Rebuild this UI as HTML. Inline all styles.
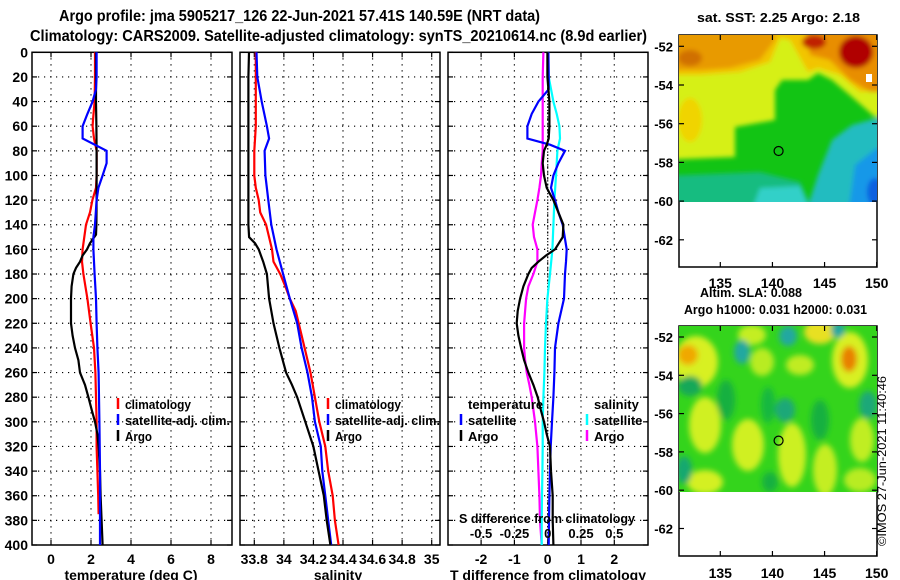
<!DOCTYPE html>
<html><head><meta charset="utf-8">
<style>
html,body{margin:0;padding:0;background:#fff;}
svg{display:block;font-family:"Liberation Sans",sans-serif;font-weight:bold;}
</style></head>
<body>
<svg id="fig" width="900" height="580" viewBox="0 0 900 580" xmlns="http://www.w3.org/2000/svg">
<defs>
<filter id="blur1" x="-10%" y="-10%" width="120%" height="120%"><feGaussianBlur stdDeviation="2.5"/></filter>
<filter id="blur2" x="-10%" y="-10%" width="120%" height="120%"><feGaussianBlur stdDeviation="3"/></filter>
<clipPath id="clipMap1"><rect x="679" y="35" width="198" height="167"/></clipPath>
<clipPath id="clipMap2"><rect x="679" y="326" width="198" height="166"/></clipPath>
</defs>
<text x="59" y="21" font-size="16" textLength="481" lengthAdjust="spacingAndGlyphs">Argo profile: jma 5905217_126 22-Jun-2021 57.41S 140.59E (NRT data)</text>
<text x="30" y="41" font-size="16" textLength="617" lengthAdjust="spacingAndGlyphs">Climatology: CARS2009. Satellite-adjusted climatology: synTS_20210614.nc (8.9d earlier)</text>

<!-- map 1: SST -->
<g>
<text x="697" y="22" font-size="13" textLength="163" lengthAdjust="spacingAndGlyphs">sat. SST: 2.25 Argo: 2.18</text>
<rect x="679" y="35" width="198" height="232" fill="#fff" stroke="#000" stroke-width="1.5"/>
<g clip-path="url(#clipMap1)">
<rect x="679" y="35" width="198" height="167" fill="#12c414"/>
<g filter="url(#blur1)">
<polygon points="660,20 900,20 900,117 875,117 852,97 832,80 818,73 808,80 782,80 775,90 775,120 735,127 735,157 660,160" fill="#d6f018"/>
<polygon points="660,20 900,20 900,80 880,90 860,92 840,75 818,68 808,72 790,40 780,38 770,62 740,72 700,75 660,75" fill="#f2c400"/>
<polygon points="660,20 775,20 775,40 760,60 730,68 700,70 660,70" fill="#e89a00"/>
<polygon points="805,20 900,20 900,92 870,92 850,80 830,60 810,55" fill="#e88e00"/>
<ellipse cx="690" cy="120" rx="12" ry="22" fill="#f0d400"/>
<ellipse cx="856" cy="52" rx="17" ry="16" fill="#b00000"/>
<ellipse cx="814" cy="42" rx="12" ry="7" fill="#c02000"/>
<ellipse cx="690" cy="58" rx="12" ry="8" fill="#d07000"/>
<polygon points="660,176 760,172 800,182 815,215 660,215" fill="#18bc80"/>
<polygon points="750,215 760,188 800,186 812,215" fill="#30d0c8"/>
<polygon points="805,215 818,175 832,140 852,125 877,118 900,118 900,215" fill="#22bcc0"/>
<polygon points="848,215 855,165 877,148 900,148 900,215" fill="#1898e8"/>
<ellipse cx="875" cy="192" rx="8" ry="14" fill="#0a60e0"/>
</g>
<rect x="866" y="74" width="6" height="8" fill="#fff"/>
</g>
</g>

<!-- map 2: SLA -->
<g>
<text x="700" y="297" font-size="13" textLength="102" lengthAdjust="spacingAndGlyphs">Altim. SLA: 0.088</text>
<text x="684" y="314" font-size="13" textLength="183" lengthAdjust="spacingAndGlyphs">Argo h1000: 0.031 h2000: 0.031</text>
<rect x="679" y="326" width="198" height="230" fill="#fff" stroke="#000" stroke-width="1.5"/>
<g clip-path="url(#clipMap2)">
<rect x="679" y="326" width="198" height="166" fill="#34d41c"/>
<g filter="url(#blur2)">
<ellipse cx="696" cy="362" rx="22" ry="26" fill="#d8f020"/>
<ellipse cx="688" cy="355" rx="10" ry="10" fill="#f0a800"/>
<ellipse cx="850" cy="360" rx="18" ry="28" fill="#d8f020"/>
<ellipse cx="849" cy="359" rx="8" ry="13" fill="#e88000"/>
<ellipse cx="820" cy="332" rx="16" ry="12" fill="#e8e020"/>
<ellipse cx="752" cy="335" rx="14" ry="10" fill="#c4ee20"/>
<ellipse cx="762" cy="362" rx="12" ry="14" fill="#b8ec20"/>
<ellipse cx="800" cy="365" rx="14" ry="10" fill="#c0ec20"/>
<ellipse cx="705" cy="425" rx="16" ry="28" fill="#d0f020"/>
<ellipse cx="748" cy="445" rx="16" ry="26" fill="#d0f020"/>
<ellipse cx="792" cy="455" rx="14" ry="32" fill="#ccf020"/>
<ellipse cx="825" cy="470" rx="12" ry="26" fill="#c4ee20"/>
<ellipse cx="862" cy="440" rx="12" ry="22" fill="#c0ee20"/>
<ellipse cx="860" cy="480" rx="16" ry="12" fill="#b8ec20"/>
<ellipse cx="705" cy="482" rx="18" ry="12" fill="#d4f020"/>
<ellipse cx="742" cy="352" rx="8" ry="12" fill="#20a8a0"/>
<ellipse cx="788" cy="336" rx="9" ry="10" fill="#20a8a0"/>
<ellipse cx="838" cy="330" rx="7" ry="8" fill="#20a8a0"/>
<ellipse cx="785" cy="410" rx="10" ry="12" fill="#1ca878"/>
<ellipse cx="690" cy="386" rx="12" ry="10" fill="#18a858"/>
<ellipse cx="868" cy="405" rx="9" ry="14" fill="#1ca878"/>
<ellipse cx="726" cy="400" rx="9" ry="20" fill="#18b040"/>
<ellipse cx="768" cy="405" rx="7" ry="18" fill="#18b840"/>
<ellipse cx="820" cy="420" rx="9" ry="20" fill="#18b040"/>
<ellipse cx="684" cy="470" rx="8" ry="14" fill="#18a870"/>
<ellipse cx="770" cy="482" rx="8" ry="10" fill="#18b040"/>
</g>
</g>
<text transform="translate(886,461) rotate(-90)" text-anchor="middle" font-size="12" font-weight="normal" textLength="170" lengthAdjust="spacingAndGlyphs">©IMOS 27-Jun-2021 11:40:46</text>
</g>

<g id="plots"></g>
</svg>
<script>
// ---------- data ----------
const depthTicks = [0,20,40,60,80,100,120,140,160,180,200,220,240,260,280,300,320,340,360,380,400];
const tempTicks = [0,2,4,6,8];
const salTicks = [33.8,34,34.2,34.4,34.6,34.8,35];
const salTickLabels = ["33.8","34","34.2","34.4","34.6","34.8","35"];
const dTTicks = [-2,-1,0,1,2];
const dSTicks = [-0.5,-0.25,0,0.25,0.5];
const dSTickLabels = ["-0.5","-0.25","0","0.25","0.5"];

const tempClimD = [0,20,40,55,60,70,80,100,110,120,130,140,160,170,180,200,220,240,260,280,300,320,340,360,375];
const tempClimV = [2.2,2.2,2.18,2.1,2.08,2.15,2.28,2.28,2.25,2.07,1.95,1.75,1.58,1.55,1.62,1.82,1.98,2.15,2.22,2.25,2.28,2.28,2.32,2.36,2.38];
const tempSatD = [0,20,30,40,50,60,70,80,90,100,110,120,140,150,160,180,200,220,240,260,300,340,400];
const tempSatV = [2.28,2.28,2.25,2.08,1.82,1.58,1.58,2.78,2.78,2.58,2.37,2.28,2.2,2.12,2.12,2.18,2.25,2.28,2.32,2.38,2.42,2.45,2.45];
const tempArgoD = [0,20,40,60,80,100,120,140,148,155,160,165,170,175,180,190,200,220,230,240,250,260,270,280,290,300,310,320,340,360,380,400];
const tempArgoV = [2.25,2.25,2.25,2.27,2.28,2.28,2.28,2.27,2.25,1.95,1.8,1.58,1.45,1.25,1.12,1.03,1.0,1.0,1.08,1.2,1.37,1.45,1.7,1.87,2.03,2.2,2.32,2.38,2.45,2.48,2.53,2.58];

const salClimD = [0,40,60,80,100,110,120,130,140,160,170,180,190,200,210,220,240,260,280,300,320,340,360,380,400];
const salClimV = [33.81,33.81,33.81,33.80,33.80,33.81,33.83,33.84,33.88,33.92,33.93,33.975,34.01,34.04,34.08,34.10,34.14,34.18,34.21,34.24,34.28,34.30,34.33,34.345,34.37];
const salSatD = [0,20,40,60,70,80,100,120,140,160,180,200,220,240,260,280,300,320,340,360,380,400];
const salSatV = [33.815,33.82,33.85,33.885,33.9,33.87,33.875,33.895,33.915,33.95,33.995,34.04,34.09,34.12,34.16,34.19,34.21,34.25,34.26,34.28,34.30,34.32];
const salArgoD = [0,20,40,60,80,100,120,140,150,155,160,170,180,200,220,240,260,270,280,300,320,340,360,380,400];
const salArgoV = [33.764,33.76,33.76,33.76,33.76,33.76,33.76,33.76,33.765,33.805,33.83,33.86,33.885,33.90,33.93,33.97,34.015,34.055,34.09,34.145,34.20,34.235,34.27,34.29,34.315];

const dTSatD = [0,20,30,40,50,60,70,75,80,90,100,110,120,130,140,160,170,180,200,220,240,260,280,300,320,340,360,380,400];
const dTSatV = [0.02,0.03,0.03,-0.28,-0.48,-0.61,-0.61,0.07,0.52,0.32,0.17,0.1,0.22,0.32,0.45,0.57,0.55,0.52,0.49,0.32,0.22,0.2,0.17,0.13,0.09,0.07,0.05,0.04,0.03];
const dTArgoD = [0,20,40,60,70,75,80,90,100,110,115,120,130,140,150,160,165,170,175,180,190,200,210,220,230,240,250,260,270,280,290,300,310,320,340,360,380,400];
const dTArgoV = [-0.01,-0.01,0.05,0.05,0.03,-0.03,-0.11,-0.15,-0.11,-0.03,0.07,0.17,0.32,0.47,0.45,0.22,-0.05,-0.28,-0.48,-0.58,-0.73,-0.83,-0.9,-0.93,-0.88,-0.8,-0.71,-0.58,-0.43,-0.3,-0.21,-0.11,-0.03,0.07,0.1,0.15,0.15,0.17];
const dSSatD = [0,20,40,50,60,70,80,90,100,120,140,160,180,200,220,240,260,280,300,320,340,360,380,400];
const dSSatV = [0.004,0.0075,0.0425,0.0675,0.0875,0.0925,0.0725,0.0675,0.0625,0.05,0.0425,0.035,0.0175,-0.0025,-0.0125,-0.02,-0.025,-0.0325,-0.0375,-0.0375,-0.04,-0.0425,-0.045,-0.045];
const dSArgoD = [0,20,80,90,100,110,120,130,140,150,160,170,180,190,200,220,240,250,260,270,280,300,320,340,360,380,400];
const dSArgoV = [-0.0325,-0.0375,-0.0375,-0.045,-0.05,-0.0625,-0.0775,-0.095,-0.1125,-0.1025,-0.0775,-0.0775,-0.1075,-0.145,-0.1625,-0.1775,-0.1775,-0.17,-0.1575,-0.1375,-0.12,-0.095,-0.0775,-0.07,-0.0625,-0.0575,-0.045];

const mapLonTicks = [135,140,145,150];
const mapLatTicks = [-52,-54,-56,-58,-60,-62];
const argoLon = 140.59;
const argoLat = -57.41;

// ---------- helpers ----------
const NS = "http://www.w3.org/2000/svg";
const root = document.getElementById("plots");
function mk(tag, attrs, parent){ const e=document.createElementNS(NS,tag); for(const k in attrs) e.setAttribute(k,attrs[k]); (parent||root).appendChild(e); return e; }
const TOP=52.3, BOT=545;
function yDepth(d){ return TOP + d*(BOT-TOP)/400; }
function linScale(v0,p0,v1,p1){ return v=>p0+(v-v0)*(p1-p0)/(v1-v0); }

function panel(name,x0,x1,xs,ticks,labels,title,titleX){
  const g=mk("g",{});
  
  
  depthTicks.forEach(d=>{
    const y=yDepth(d);
    if(d>0&&d<400){ const l=mk("line",{x1:x0,x2:x1,y1:y,y2:y,stroke:"#000","stroke-width":1.2,"stroke-dasharray":"1.2 4.8"},g);
        }
    mk("line",{x1:x0,x2:x0+5,y1:y,y2:y,stroke:"#000","stroke-width":1.2},g);
    mk("line",{x1:x1-5,x2:x1,y1:y,y2:y,stroke:"#000","stroke-width":1.2},g);
  });
  ticks.forEach((t,i)=>{
    const x=xs(t);
    const l=mk("line",{x1:x,x2:x,y1:TOP,y2:BOT,stroke:"#000","stroke-width":1.2,"stroke-dasharray":"1.2 4.8"},g);
     
    mk("line",{x1:x,x2:x,y1:TOP,y2:TOP+5,stroke:"#000","stroke-width":1.2},g);
    mk("line",{x1:x,x2:x,y1:BOT-5,y2:BOT,stroke:"#000","stroke-width":1.2},g);
    const tl=mk("text",{x:x,y:564,"font-size":14,"text-anchor":"middle"},g);
    tl.textContent=labels[i];
     
  });
  const r=mk("rect",{x:x0,y:TOP,width:x1-x0,height:BOT-TOP,fill:"none",stroke:"#000","stroke-width":1.5},g);
   
  const at=mk("text",{x:titleX,y:580,"font-size":14,"text-anchor":"middle"},g);
  at.textContent=title;
   
  return g;
}
function series(g,D,V,xs,color,name){
  const pts=D.map((d,i)=>xs(V[i]).toFixed(1)+","+yDepth(d).toFixed(1)).join(" ");
  const p=mk("polyline",{points:pts,fill:"none",stroke:color,"stroke-width":2.2,"stroke-linejoin":"miter"},g);
  
  
}
function legendEntry(g,x,y,color,label,name,len){
  mk("line",{x1:x,x2:x,y1:y-6,y2:y+5,stroke:color,"stroke-width":2.5},g);
  const a={x:x+7,y:y+5,"font-size":13};
  if(len){ a.textLength=len; a.lengthAdjust="spacingAndGlyphs"; }
  const t=mk("text",a,g);
  t.textContent=label;
  
  
}

// y labels
depthTicks.forEach(d=>{
  const t=mk("text",{x:28,y:yDepth(d)+5,"font-size":14,"text-anchor":"end"});
  t.textContent=String(d);
  
  
});

// panel 1 temperature
const xT=linScale(0,51,8,211);
const p1=panel("temperature-panel",32,232,xT,tempTicks,tempTicks.map(String),"temperature (deg C)",131);
series(p1,tempClimD,tempClimV,xT,"#ff0000","temp-climatology-line");
series(p1,tempArgoD,tempArgoV,xT,"#000000","temp-argo-line");
series(p1,tempSatD,tempSatV,xT,"#0000ff","temp-satellite-line");
legendEntry(p1,118,404,"#ff0000","climatology","legend-climatology",66);
legendEntry(p1,118,420,"#0000ff","satellite-adj. clim.","legend-satellite-adj",105);
legendEntry(p1,118,436,"#000000","Argo","legend-argo",27);

// panel 2 salinity
const xS=linScale(33.8,254.3,35,431.7);
const p2=panel("salinity-panel",240,440,xS,salTicks,salTickLabels,"salinity",338);
series(p2,salClimD,salClimV,xS,"#ff0000","sal-climatology-line");
series(p2,salSatD,salSatV,xS,"#0000ff","sal-satellite-line");
series(p2,salArgoD,salArgoV,xS,"#000000","sal-argo-line");
legendEntry(p2,328,404,"#ff0000","climatology","legend-climatology",66);
legendEntry(p2,328,420,"#0000ff","satellite-adj. clim.","legend-satellite-adj",105);
legendEntry(p2,328,436,"#000000","Argo","legend-argo",27);

// panel 3 differences
const xdT=linScale(0,547.7,1,581);
const xdS=linScale(0,547.7,0.25,581);
const p3=panel("difference-panel",448,648,xdT,dTTicks,dTTicks.map(String),"T difference from climatology",548);
const zl=mk("line",{x1:xdT(0),x2:xdT(0),y1:TOP,y2:BOT,stroke:"#000","stroke-width":1.2,"stroke-dasharray":"1.2 2"},p3);
 
series(p3,dSArgoD,dSArgoV,xdS,"#ff00ff","dS-argo-line");
series(p3,dSSatD,dSSatV,xdS,"#00ffff","dS-satellite-line");
series(p3,dTSatD,dTSatV,xdT,"#0000ff","dT-satellite-line");
series(p3,dTArgoD,dTArgoV,xdT,"#000000","dT-argo-line");
const lt=mk("text",{x:468,y:409,"font-size":13},p3); lt.textContent="temperature";
 
const ls=mk("text",{x:594,y:409,"font-size":13},p3); ls.textContent="salinity";
 
legendEntry(p3,461,420,"#0000ff","satellite","legend-dT-satellite");
legendEntry(p3,461,436,"#000000","Argo","legend-dT-argo");
legendEntry(p3,587,420,"#00ffff","satellite","legend-dS-satellite");
legendEntry(p3,587,436,"#ff00ff","Argo","legend-dS-argo");
const st=mk("text",{x:459,y:523,"font-size":13,textLength:176,lengthAdjust:"spacingAndGlyphs"},p3); st.textContent="S difference from climatology";
 
dSTicks.forEach((v,i)=>{
  const t=mk("text",{x:xdS(v),y:538,"font-size":13,"text-anchor":"middle"},p3);
  t.textContent=dSTickLabels[i];
  
  
});

// maps axes
const lonX=linScale(135,720.3,150,876.7);
function mapAxes(name,top,bot,lat52,latStep,labelY,labelOffset){
  const g=mk("g",{});
  
  
  const latY=v=>lat52+(-52-v)/2*latStep;
  mapLatTicks.forEach(v=>{
    const y=latY(v);
    mk("line",{x1:679,x2:684,y1:y,y2:y,stroke:"#000","stroke-width":1.2},g);
    mk("line",{x1:872,x2:877,y1:y,y2:y,stroke:"#000","stroke-width":1.2},g);
    const t=mk("text",{x:673,y:y+5+labelOffset,"font-size":13,"text-anchor":"end"},g);
    t.textContent=String(v);
    
    
  });
  mapLonTicks.forEach(v=>{
    const x=lonX(v);
    mk("line",{x1:x,x2:x,y1:top,y2:top+5,stroke:"#000","stroke-width":1.2},g);
    mk("line",{x1:x,x2:x,y1:bot-5,y2:bot,stroke:"#000","stroke-width":1.2},g);
    const t=mk("text",{x:x,y:labelY,"font-size":14,"text-anchor":"middle"},g);
    t.textContent=String(v);
    
    
  });
  const c=mk("circle",{cx:lonX(argoLon),cy:latY(argoLat),r:4.5,fill:"none",stroke:"#000","stroke-width":1.2},g);
  
  
}
mapAxes("sst-map-axes",35,267,46.3,38.7,288,0);
mapAxes("sla-map-axes",326,556,337,38.3,578,0);
</script>
</body></html>
